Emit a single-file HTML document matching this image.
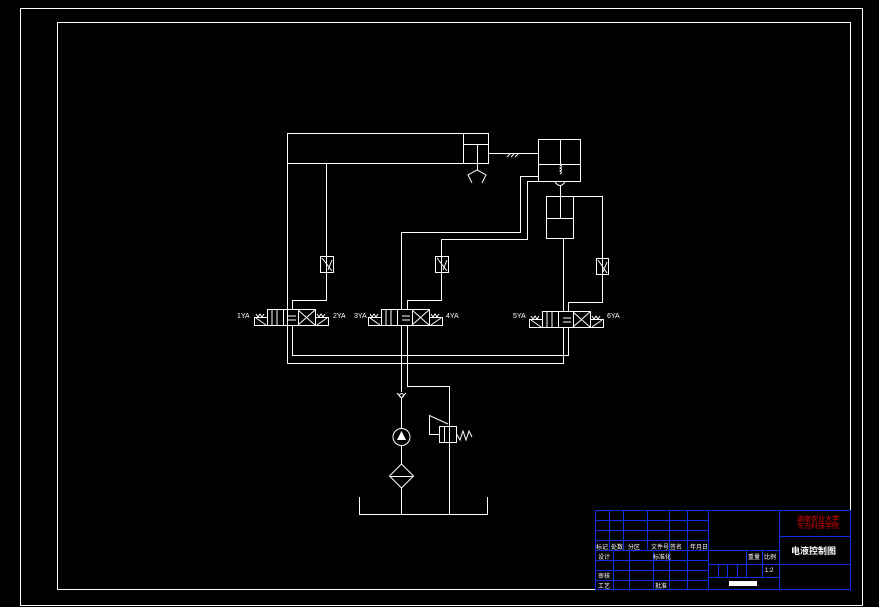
<!DOCTYPE html>
<html><head><style>html,body{margin:0;padding:0;background:#000;}svg{display:block}</style></head><body>
<svg width="879" height="607" viewBox="0 0 879 607" xmlns="http://www.w3.org/2000/svg" font-family="Liberation Sans, Noto Sans CJK SC, sans-serif">
<rect width="879" height="607" fill="#000"/>
<g fill="none" stroke="#fff" stroke-width="1">
<rect x="20.5" y="8.5" width="842" height="597"/>
<rect x="57.5" y="22.5" width="793" height="567"/>
<!-- big cylinder -->
<rect x="287.5" y="133.5" width="201" height="30"/>
<line x1="463.5" y1="133.5" x2="463.5" y2="163.5"/>
<line x1="463.5" y1="144.5" x2="488.5" y2="144.5"/>
<line x1="477.5" y1="144.5" x2="477.5" y2="163.5"/>
<line x1="477.5" y1="163.5" x2="477.5" y2="170"/>
<polyline points="472,183 468,175 477,170 486,175 482,183"/>
<line x1="488.5" y1="153.5" x2="538.5" y2="153.5"/>
<path d="M507 157 l3 -3 M511 157 l3 -3 M515 157 l3 -3"/>
<!-- right box -->
<rect x="538.5" y="139.5" width="42" height="42"/>
<line x1="560.5" y1="139.5" x2="560.5" y2="164.5"/>
<line x1="538.5" y1="164.5" x2="580.5" y2="164.5"/>
<path d="M560 165 q3 1.5 0 3 q3 1.5 0 3 q3 1.5 0 3"/>
<path d="M555 181.5 q2 4 5 4 q3 0 5 -4"/>
<line x1="560.5" y1="185" x2="560.5" y2="218.5"/>
<!-- lines to valve 2 -->
<polyline points="538.5,176.5 520.5,176.5 520.5,232.5 401.5,232.5 401.5,310"/>
<polyline points="538.5,181.5 527.5,181.5 527.5,239.5 441.5,239.5 441.5,300.5 407.5,300.5 407.5,310"/>
<!-- vertical cylinder -->
<rect x="546.5" y="196.5" width="27" height="42"/>
<line x1="546.5" y1="218.5" x2="573.5" y2="218.5"/>
<polyline points="573.5,196.5 602.5,196.5 602.5,302.5 568.5,302.5 568.5,312"/>
<line x1="563.5" y1="238.5" x2="563.5" y2="312"/>
<!-- left cylinder lines -->
<polyline points="326.5,163.5 326.5,300.5 292.5,300.5 292.5,309"/>
<line x1="287.5" y1="163.5" x2="287.5" y2="363.5"/>
<!-- throttles -->
<rect x="320.5" y="256.5" width="13" height="16"/>
<rect x="435.5" y="256.5" width="13" height="16"/>
<rect x="596.5" y="258.5" width="12" height="16"/>
<path d="M322 258 l10 13 M332 260 l-4 10 M437 258 l10 13 M447 260 l-4 10 M598 260 l9 13 M607 262 l-4 10"/>
<!-- valves -->
<g id="v1">
<rect x="254.5" y="317.5" width="13" height="8"/>
<rect x="267.5" y="309.5" width="48" height="16"/>
<line x1="283.5" y1="309.5" x2="283.5" y2="325.5"/>
<line x1="298.5" y1="309.5" x2="298.5" y2="325.5"/>
<rect x="315.5" y="317.5" width="13" height="8"/>
<path d="M272 310 v15 M277 310 v15 M288 316 h8 M288 320 h8 M298 310 l17 15 M315 310 l-17 15 M256 318 l10 7 M317 325 l10 -7 M256 314 l2 3 l2 -3 l2 3 l2 -3 M317 314 l2 3 l2 -3 l2 3 l2 -3"/>
</g>
<use href="#v1" transform="translate(114,0)"/>
<use href="#v1" transform="translate(275,2)"/>
<!-- return rails -->
<polyline points="292.5,325 292.5,355.5 568.5,355.5 568.5,327"/>
<polyline points="287.5,363.5 563.5,363.5 563.5,327"/>
<line x1="401.5" y1="325" x2="401.5" y2="392"/>
<polyline points="407.5,325 407.5,386.5 449.5,386.5 449.5,514"/>
<!-- pump side -->
<polyline points="397,393 401.5,398 406,393"/>
<circle cx="401.5" cy="395.5" r="2"/>
<line x1="401.5" y1="398" x2="401.5" y2="428"/>
<circle cx="401.5" cy="437" r="8.5"/>
<line x1="401.5" y1="445.5" x2="401.5" y2="464"/>
<polygon points="401.5,464 413.5,476 401.5,488 389.5,476"/>
<line x1="389.5" y1="476.5" x2="413.5" y2="476.5"/>
<line x1="401.5" y1="488" x2="401.5" y2="514"/>
<polyline points="359.5,497 359.5,514.5 487.5,514.5 487.5,497"/>
<rect x="439.5" y="426.5" width="17" height="16"/>
<line x1="444.5" y1="426.5" x2="444.5" y2="442.5"/>
<polyline points="440,434.5 429.5,434.5 429.5,415.5 448,424"/>
<polyline points="456.5,434 460,440 463,431 466,440 469,431 472,437"/>
</g>
<polygon points="401.5,431 406,440 397,440" fill="#fff"/>
<g fill="#fff" font-size="7">
<text x="237" y="318">1YA</text><text x="333" y="318">2YA</text>
<text x="354" y="318">3YA</text><text x="446" y="318">4YA</text>
<text x="513" y="318">5YA</text><text x="607" y="318">6YA</text>
</g>
<!-- title block -->
<g fill="none" stroke="#1030e0" stroke-width="1">
<rect x="595.5" y="510.5" width="255" height="79"/>
<path d="M708.5 510.5 V589.5 M779.5 510.5 V589.5 M595.5 520.5 H708.5 M595.5 530.5 H708.5 M595.5 540.5 H708.5 M595.5 550.5 H708.5 M595.5 560.5 H708.5 M595.5 570.5 H708.5 M595.5 580.5 H708.5
M609.5 510.5 V550.5 M623.5 510.5 V550.5 M647.5 510.5 V550.5 M669.5 510.5 V589.5 M687.5 510.5 V589.5
M613.5 550.5 V589.5 M629.5 550.5 V589.5 M653.5 550.5 V589.5
M708.5 550.5 H779.5 M708.5 564.5 H850.5 M708.5 577.5 H779.5 M779.5 536.5 H850.5
M746.5 550.5 V577.5 M762.5 550.5 V577.5 M718.5 564.5 V577.5 M727.5 564.5 V577.5 M737.5 564.5 V577.5"/>
</g>
<rect x="729" y="581" width="28" height="5" fill="#fff"/>
<g fill="#e00000" font-size="7"><text x="797" y="521">湖南农业大学</text><text x="797" y="528">东方科技学院</text></g>
<text x="791" y="554" fill="#fff" font-size="9" font-weight="bold">电液控制图</text>
<g fill="#fff" font-size="6">
<text x="596" y="549">标记</text><text x="611" y="549">处数</text><text x="628" y="549">分区</text><text x="651" y="549">文件号</text><text x="670" y="549">签名</text><text x="690" y="549">年月日</text>
<text x="598" y="559">设计</text><text x="653" y="559">标准化</text>
<text x="598" y="578">审核</text><text x="598" y="588">工艺</text><text x="655" y="588">批准</text>
<text x="748" y="559">重量</text><text x="764" y="559">比例</text><text x="765" y="572">1:2</text>
</g>
</svg>
</body></html>
